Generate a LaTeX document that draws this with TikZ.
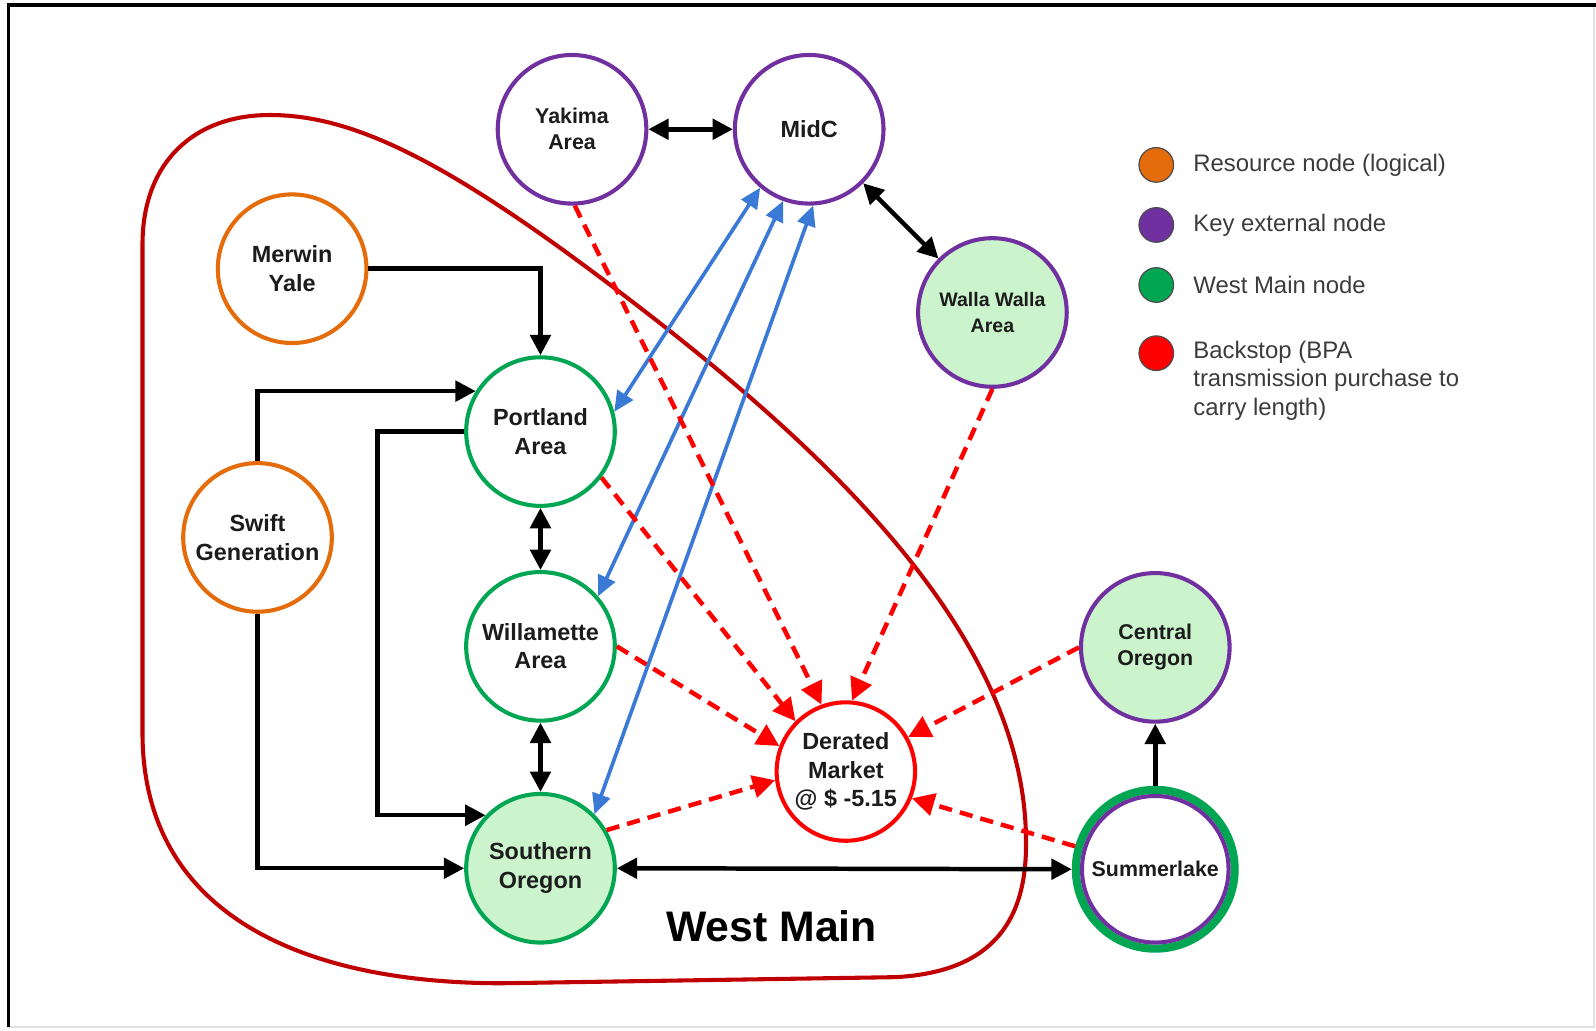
\documentclass[tikz,border=0pt]{standalone}
\usepackage{fontspec}
\setmainfont{Liberation Sans}
\usetikzlibrary{arrows.meta}
\definecolor{cOrange}{RGB}{228,108,10}
\definecolor{cPurple}{RGB}{112,48,160}
\definecolor{cGreen}{RGB}{0,166,81}
\definecolor{cLight}{RGB}{204,244,204}
\definecolor{cRed}{RGB}{255,0,0}
\definecolor{cDark}{RGB}{192,0,0}
\definecolor{cBlue}{RGB}{58,122,214}
\definecolor{cText}{RGB}{28,28,28}
\definecolor{cGray}{RGB}{60,60,60}
\begin{document}
\begin{tikzpicture}[x=0.5pt,y=-0.5pt,
  nd/.style={circle, line width=2pt, minimum size=73pt, inner sep=0pt, align=center, text=cText,
    font=\bfseries\fontsize{11.5}{14}\selectfont},
  smallnd/.style={font=\bfseries\fontsize{10.5}{12.8}\selectfont},
  res/.style={nd, draw=cOrange, fill=white},
  ext/.style={nd, draw=cPurple, fill=white},
  extg/.style={nd, draw=cPurple, fill=cLight},
  wm/.style={nd, draw=cGreen, fill=white},
  wmf/.style={nd, draw=cGreen, fill=cLight},
  blk/.style={line width=2.2pt, draw=black, -{Triangle[length=10pt,width=10pt]}},
  blk2/.style={line width=2.2pt, draw=black, {Triangle[length=10pt,width=10pt]}-{Triangle[length=10pt,width=10pt]}},
  blu/.style={line width=1.8pt, draw=cBlue, {Triangle[length=10pt,width=9pt]}-{Triangle[length=10pt,width=9pt]}},
  rdash/.style={line width=2.2pt, draw=cRed, dash pattern=on 6.5pt off 4pt, -{Triangle[length=11pt,width=11pt]}},
  legdot/.style={circle, draw=black!70, line width=0.6pt, minimum width=16pt, minimum height=17pt, inner sep=0pt},
  legtxt/.style={anchor=west, text=cGray, font=\fontsize{11.75}{13.9}\selectfont, align=left, inner sep=0pt}
]
\useasboundingbox (0,0) rectangle (1568,1012);
\fill[white] (0,0) rectangle (1568,1012);
% frame
\draw[black!12, line width=1.2pt] (1566,5) -- (1566,1009) -- (8,1009);
\draw[black, line width=1.6pt] (8,1009) -- (8,5) -- (1568,5);

% West Main boundary
\draw[cDark, line width=2pt] (140,720) -- (140,240)
  .. controls (140,160) and (190,113) .. (265,113)
  .. controls (342,113) and (429,152) .. (589,272)
  .. controls (800,430) and (1010,620) .. (1008,830)
  .. controls (1008,910) and (970,955) .. (880,960)
  -- (493,966)
  .. controls (300,966) and (140,900) .. cycle;

% nodes
\node[ext, smallnd] (yakima) at (562,127) {Yakima\\Area};
\node[ext] (midc) at (795,127) {MidC};
\node[extg, font=\bfseries\fontsize{9.6}{12.5}\selectfont] (walla) at (975,307) {Walla Walla\\Area};
\node[res] (merwin) at (287,264) {Merwin\\Yale};
\node[wm] (portland) at (531,424) {Portland\\Area};
\node[res] (swift) at (253,528) {Swift\\Generation};
\node[wm] (willamette) at (531,635) {Willamette\\Area};
\node[wmf] (southern) at (531,853) {Southern\\Oregon};
\node[nd, draw=cRed, fill=white, minimum size=68pt] (derated) at (831,758) {Derated\\Market\\@ \$ -5.15};
\node[extg, smallnd] (central) at (1135,636) {Central\\Oregon};
\node[nd, smallnd, draw=cGreen, line width=4pt, minimum size=78pt, fill=white] (summer) at (1135,854) {Summerlake};
\draw[cPurple, line width=2pt] (summer.center) circle[radius=36pt];

\node[font=\bfseries\fontsize{21}{25}\selectfont, text=black] (wmlabel) at (758,910) {West Main};

% black connectors
\draw[blk] (merwin.east) -| (portland.north);
\draw[blk] (swift.north) |- (portland.148);
\draw[blk] (portland.west) -- ++(-85,0) |- (southern.136);
\draw[blk] (swift.south) |- (southern.west);
\draw[blk2] (portland.south) -- (willamette.north);
\draw[blk2] (willamette.south) -- (southern.north);
\draw[blk2] (southern.east) -- (summer.west);
\draw[blk] (summer.north) -- (central.south);
\draw[blk2] (yakima.east) -- (midc.west);
\draw[blk2] (midc.-45) -- (walla.135);

% blue connectors
\draw[blu] (midc.230) -- (portland.15);
\draw[blu] (midc.250) -- (willamette.41);
\draw[blu] (midc.273) -- (southern.45);

% red dashed connectors
\draw[rdash] (yakima.272) -- (derated.110);
\draw[rdash] (portland.-37) -- (derated.135);
\draw[rdash] (walla.south) -- (derated.85);
\draw[rdash] (willamette.east) -- (derated.159);
\draw[rdash] (southern.30) -- (derated.187);
\draw[rdash] (central.west) -- (derated.29);
\draw[rdash] (summer.164) -- (derated.-22);

% legend
\node[legdot, fill=cOrange] (l1) at (1136,162) {};
\node[legtxt] (t1) at (1172,162) {Resource node (logical)};
\node[legdot, fill=cPurple] (l2) at (1136,221) {};
\node[legtxt] (t2) at (1172,221) {Key external node};
\node[legdot, fill=cGreen] (l3) at (1136,280) {};
\node[legtxt] (t3) at (1172,280) {West Main node};
\node[legdot, fill=cRed] (l4) at (1136,347) {};
\node[legtxt] (t4) at (1172,374) {Backstop (BPA\\transmission purchase to\\carry length)};
\end{tikzpicture}
\end{document}
